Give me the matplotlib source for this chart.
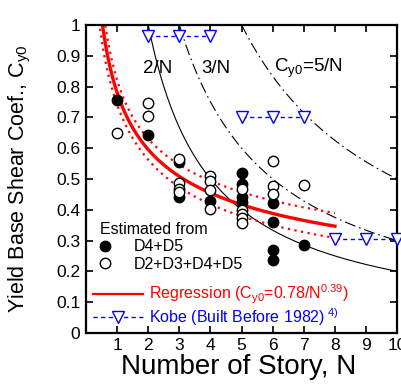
import numpy as np
import matplotlib
matplotlib.use("Agg")
from matplotlib import pyplot as plt
from matplotlib.lines import Line2D

plt.rcParams['font.family'] = ['Liberation Sans', 'DejaVu Sans']
plt.rcParams['mathtext.fontset'] = 'custom'
plt.rcParams['mathtext.rm'] = 'Liberation Sans'
plt.rcParams['mathtext.it'] = 'Liberation Sans:italic'

# D4+D5 (filled)
n_d45 = [1, 2, 3, 3, 4, 5, 5, 5, 5, 6, 6, 6, 6, 7]
c_d45 = [0.757, 0.643, 0.556, 0.44, 0.43, 0.52, 0.483, 0.44, 0.426,
         0.423, 0.359, 0.27, 0.236, 0.286]

# D2+D3+D4+D5 (open)
n_d2345 = [1, 2, 2, 3, 3, 3, 3, 4, 4, 4, 4, 5, 5, 5, 5, 5, 6, 6, 6, 7]
c_d2345 = [0.648, 0.746, 0.705, 0.565, 0.486, 0.467, 0.456,
           0.508, 0.493, 0.464, 0.402,
           0.467, 0.40, 0.385, 0.374, 0.358,
           0.558, 0.476, 0.45, 0.481]

# Kobe (built before 1982)
kobe_groups = [([2, 3, 4], [0.965, 0.965, 0.965]),
               ([5, 6, 7], [0.70, 0.70, 0.70]),
               ([8, 9, 10], [0.305, 0.305, 0.305])]

# regression Cy0 = a / N^b
reg_a, reg_b = 0.78, 0.39
ref_coefs = [2, 3, 5]

fig = plt.figure(figsize=(4.02, 3.84), dpi=100)
ax = fig.add_axes([0.214, 0.133, 0.774, 0.802])

# reference curves C/N
styles = {2: '-', 3: (0, (10, 3.5, 1.5, 3.5)), 5: (0, (10, 3.5, 1.5, 3.5))}
for c in ref_coefs:
    n = np.linspace(c, 10, 200)
    ax.plot(n, c / n, color='black', lw=0.8, ls=styles[c])

# regression + band
n = np.linspace(0.4, 8, 300)
reg = reg_a / n ** reg_b
w = 0.05 * np.sqrt(1 + ((np.log(n) - np.log(1.2)) / 0.9) ** 2)
ax.plot(n, reg * np.exp(w), color='red', lw=1.6, ls=(0, (1, 2)))
ax.plot(n, reg * np.exp(-w), color='red', lw=1.6, ls=(0, (1, 2)))
ax.plot(n, reg, color='red', lw=2.4)

for kn, kc in kobe_groups:
    ax.plot(kn, kc, color='#0000ff', lw=1.0, ls=(0, (3, 2.5)), marker='v',
            ms=8, mfc='white', mec='#0000ff', mew=1.0, clip_on=False, zorder=5)

ax.plot(n_d45, c_d45, 'o', ms=7.5, mfc='black', mec='black', zorder=6)
ax.plot(n_d2345, c_d2345, 'o', ms=7.5, mfc='white', mec='black', mew=1.0, zorder=7)

ax.text(1.84, 0.86, '2/N', fontsize=13.5, va='center')
ax.text(3.71, 0.86, '3/N', fontsize=13.5, va='center')
ax.text(6.03, 0.86, r'C$_{\mathrm{y0}}$=5/N', fontsize=13.5, va='center')

ax.set_xlim(0, 10)
ax.set_ylim(0, 1)
ax.set_xticks(range(1, 11))
ax.set_yticks(np.arange(0, 1.01, 0.1))
ax.set_yticklabels(['0', '0.1', '0.2', '0.3', '0.4', '0.5', '0.6', '0.7', '0.8', '0.9', '1'])
ax.tick_params(direction='in', top=True, right=True, length=5, width=1.2,
               labelsize=12.5, pad=4)
for s in ax.spines.values():
    s.set_linewidth(1.6)

ax.set_xlabel('Number of Story, N', fontsize=20)
ax.set_ylabel(r'Yield Base Shear Coef., C$_{\mathrm{y0}}$', fontsize=15.5)
ax.xaxis.set_label_coords(0.49, -0.07)
ax.yaxis.set_label_coords(-0.17, 0.5)

h1 = [Line2D([], [], ls='', marker='o', ms=7.5, mfc='black', mec='black'),
      Line2D([], [], ls='', marker='o', ms=7.5, mfc='white', mec='black')]
leg1 = ax.legend(h1, ['D4+D5', 'D2+D3+D4+D5'], title='Estimated from',
                 loc='upper left', bbox_to_anchor=(0.045, 0.36), frameon=False,
                 fontsize=11.5, title_fontsize=11.5, alignment='left',
                 handlelength=0.6, handletextpad=1.5, borderpad=0,
                 borderaxespad=0, labelspacing=0.15)
ax.add_artist(leg1)
h2 = [Line2D([], [], color='red', lw=1.6),
      Line2D([], [], color='#0000ff', lw=1.0, ls=(0, (3, 2.5)), marker='v',
             ms=8, mfc='white', mec='#0000ff')]
leg2 = ax.legend(h2, [r'Regression (C$_{\mathrm{y0}}$=0.78/N$^{0.39}$)',
                      r'Kobe (Built Before 1982)$^{\ 4)}$'],
                 loc='upper left', bbox_to_anchor=(0.0225, 0.162), frameon=False,
                 fontsize=11.5, handlelength=3.1, handletextpad=0.4, borderpad=0,
                 borderaxespad=0, labelspacing=0.0)
leg2.get_texts()[0].set_color('red')
leg2.get_texts()[1].set_color('#0000ff')

fig.savefig('out.png', dpi=100)
